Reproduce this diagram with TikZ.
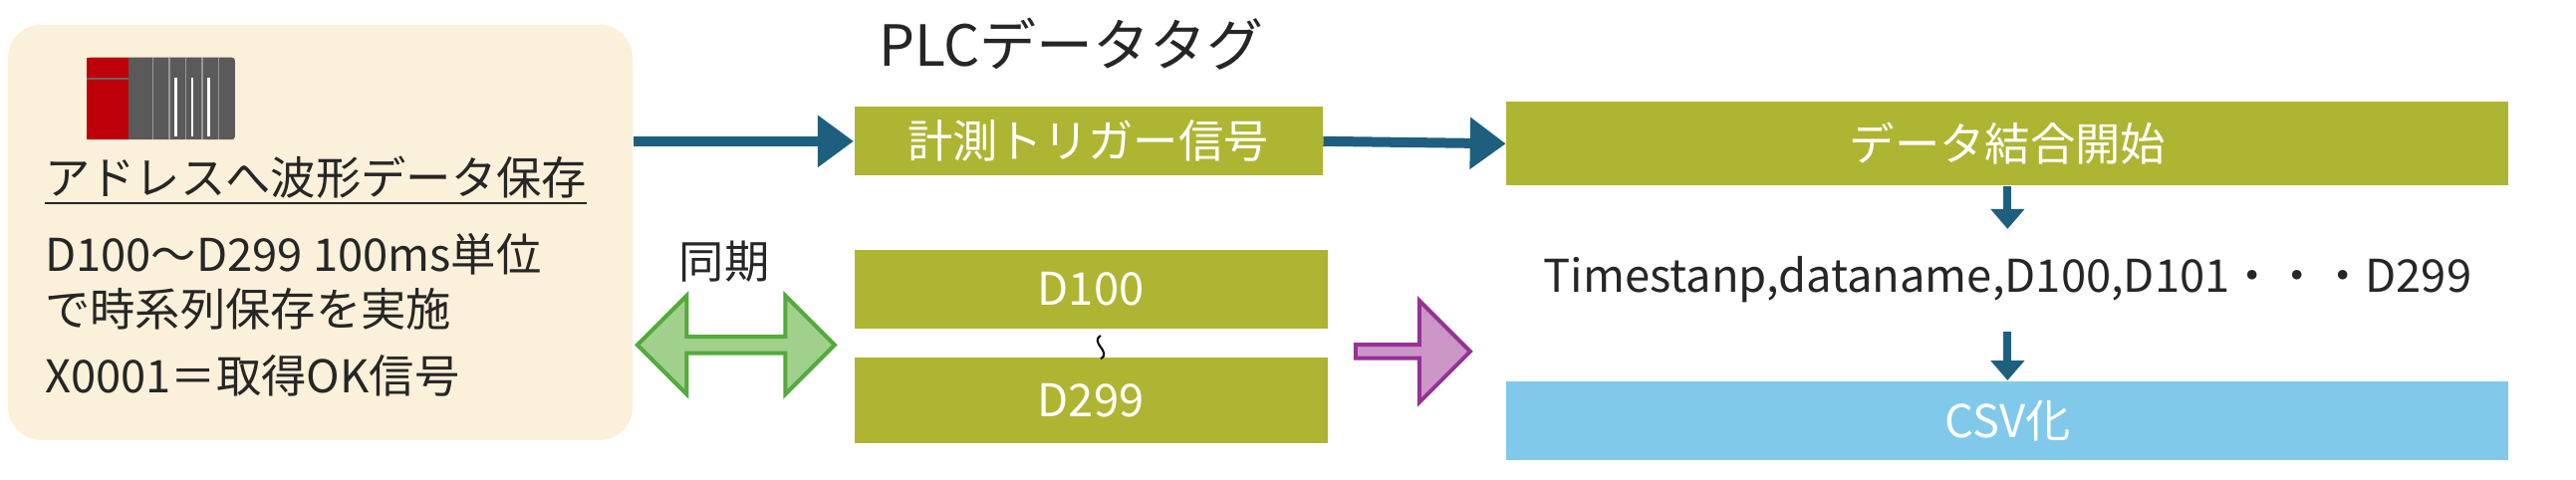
\documentclass[tikz,border=0pt]{standalone}
\usepackage{fontspec}
\setmainfont{Noto Sans CJK JP}
\usetikzlibrary{arrows.meta,shapes.arrows}
\definecolor{panel}{RGB}{251,240,217}
\definecolor{olive}{RGB}{174,181,50}
\definecolor{flow}{RGB}{30,95,128}
\definecolor{sky}{RGB}{128,201,234}
\definecolor{sync}{RGB}{84,170,60}
\definecolor{syncfill}{RGB}{160,208,140}
\definecolor{merge}{RGB}{150,50,150}
\definecolor{mergefill}{RGB}{205,150,200}
\definecolor{plcred}{RGB}{190,0,10}
\definecolor{plcgray}{RGB}{90,90,90}
\tikzset{
  tag/.style={fill=olive, text=white, inner sep=0pt, font=\fontsize{12.9}{15}\selectfont},
  note/.style={anchor=west, inner sep=0pt, text=black!85, font=\fontsize{12.9}{15}\selectfont},
  link/.style={draw=flow, line width=0.1cm, -{Triangle[length=0.36cm,width=0.5cm]}},
  down link/.style={draw=flow, line width=0.08cm, -{Triangle[length=0.2cm,width=0.33cm]}},
}
\begin{document}
\begin{tikzpicture}[x=0.01649cm,y=-0.01649cm]
  \useasboundingbox (0,0) rectangle (1568,291.7);
  % left panel
  \node (panel) [fill=panel, rounded corners=0.33cm, minimum width=6.27cm, minimum height=4.17cm] at (195,141.5) {};
  % PLC icon
  \fill [plcgray, rounded corners=0.03cm] (53,35) rectangle (143,85);
  \fill [plcred] (53,35) rectangle (78,85);
  \draw [black!60, line width=0.015cm] (53,48) -- (78,48);
  \foreach \x in {93,103,113,123,133} \draw [black!40, line width=0.015cm] (\x,35) -- (\x,85);
  \foreach \x in {107,117,127} \draw [white, line width=0.025cm] (\x,47) -- (\x,83);
  \node (title) [note] at (27,110) {\underline{アドレスへ波形データ保存}};
  \node (range) [note] at (27,155) {D100～D299 100ms単位};
  \node (save) [note] at (27,188) {で時系列保存を実施};
  \node (flag) [note] at (27,229) {X0001＝取得OK信号};
  % PLC data tags
  \node (tags) [inner sep=0pt, text=black!85, font=\fontsize{16.2}{19}\selectfont] at (652,27) {PLCデータタグ};
  \node (trig) [tag, minimum width=4.70cm, minimum height=0.69cm] at (662.5,86) {計測トリガー信号};
  \node (dfirst) [tag, minimum width=4.75cm, minimum height=0.79cm] at (664,176) {D100};
  \node (dlast) [tag, minimum width=4.75cm, minimum height=0.86cm] at (664,244) {D299};
  \draw [line width=0.02cm] (dfirst.south) ++(6,4) .. controls +(-7,4) and +(7,-4) .. ++(0,14);
  \node (sync) [inner sep=0pt, text=black!85, font=\fontsize{12.9}{15}\selectfont] at (441,159) {同期};
  \node (both) [double arrow, draw=sync, line width=0.04cm, fill=syncfill, minimum width=0.99cm,
    minimum height=1.98cm, double arrow head extend=0.1cm, inner sep=0pt] at (448,210) {};
  \node (go) [single arrow, draw=merge, line width=0.04cm, fill=mergefill, minimum width=1.02cm,
    minimum height=1.15cm, single arrow head extend=0.13cm, inner sep=0pt] at (858,214) {};
  % output side
  \node (join) [tag, minimum width=10.06cm, minimum height=0.84cm] at (1222,87.5) {データ結合開始};
  \node (row) [inner sep=0pt, text=black!85, font=\fontsize{12.9}{15}\selectfont] at (1222,170) {Timestanp,dataname,D100,D101・・・D299};
  \node (csv) [tag, fill=sky, minimum width=10.06cm, minimum height=0.79cm] at (1222,256) {CSV化};
  \draw [link] (panel.east |- trig) -- (trig.west);
  \draw [link] (trig.east) -- (join.west);
  \draw [down link] (join.south) -- ++(0,26);
  \draw [down link] (1222,202) -- (csv.north);
\end{tikzpicture}
\end{document}
